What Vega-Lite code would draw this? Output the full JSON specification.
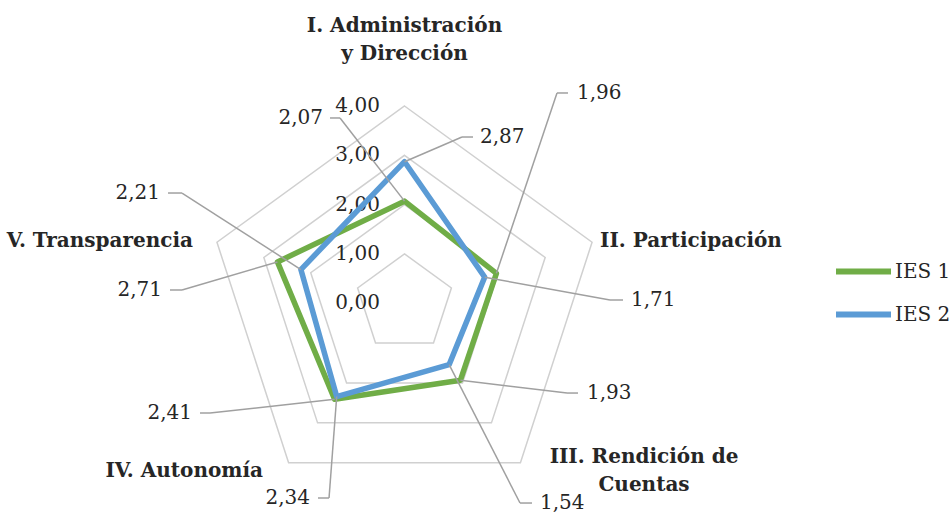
{
  "$schema": "https://vega.github.io/schema/vega-lite/v6.json",
  "width": 952,
  "height": 512,
  "padding": 0,
  "autosize": {"type": "none"},
  "background": "white",
  "config": {"view": {"stroke": null}, "font": "DejaVu Serif"},
  "datasets": {
    "scores": [
      {"dimension": "I. Administración y Dirección", "idx": 0, "series": "IES 1", "value": 2.07},
      {"dimension": "I. Administración y Dirección", "idx": 0, "series": "IES 2", "value": 2.87},
      {"dimension": "II. Participación", "idx": 1, "series": "IES 1", "value": 1.96},
      {"dimension": "II. Participación", "idx": 1, "series": "IES 2", "value": 1.71},
      {"dimension": "III. Rendición de Cuentas", "idx": 2, "series": "IES 1", "value": 1.93},
      {"dimension": "III. Rendición de Cuentas", "idx": 2, "series": "IES 2", "value": 1.54},
      {"dimension": "IV. Autonomía", "idx": 3, "series": "IES 1", "value": 2.41},
      {"dimension": "IV. Autonomía", "idx": 3, "series": "IES 2", "value": 2.34},
      {"dimension": "V. Transparencia", "idx": 4, "series": "IES 1", "value": 2.71},
      {"dimension": "V. Transparencia", "idx": 4, "series": "IES 2", "value": 2.21}
    ],
    "rings": [
      {"ring": 1, "idx": 0}, {"ring": 1, "idx": 1}, {"ring": 1, "idx": 2}, {"ring": 1, "idx": 3}, {"ring": 1, "idx": 4},
      {"ring": 2, "idx": 0}, {"ring": 2, "idx": 1}, {"ring": 2, "idx": 2}, {"ring": 2, "idx": 3}, {"ring": 2, "idx": 4},
      {"ring": 3, "idx": 0}, {"ring": 3, "idx": 1}, {"ring": 3, "idx": 2}, {"ring": 3, "idx": 3}, {"ring": 3, "idx": 4},
      {"ring": 4, "idx": 0}, {"ring": 4, "idx": 1}, {"ring": 4, "idx": 2}, {"ring": 4, "idx": 3}, {"ring": 4, "idx": 4}
    ],
    "ticks": [{"tick": 0}, {"tick": 1}, {"tick": 2}, {"tick": 3}, {"tick": 4}],
    "dims": [
      {"idx": 0, "label": "I. Administración\ny Dirección"},
      {"idx": 1, "label": "II. Participación"},
      {"idx": 2, "label": "III. Rendición de\nCuentas"},
      {"idx": 3, "label": "IV. Autonomía"},
      {"idx": 4, "label": "V. Transparencia"}
    ]
  },
  "layer": [
    {
      "data": {"name": "rings"},
      "transform": [
        {"calculate": "datum.ring * sin(datum.idx * 2 * PI / 5)", "as": "px"},
        {"calculate": "datum.ring * cos(datum.idx * 2 * PI / 5)", "as": "py"}
      ],
      "mark": {"type": "line", "interpolate": "linear-closed", "stroke": "#d0d0d0", "strokeWidth": 1.5},
      "encoding": {
        "x": {"field": "px", "type": "quantitative", "axis": null, "scale": {"domain": [-8.205, 11.105], "nice": false, "zero": false}},
        "y": {"field": "py", "type": "quantitative", "axis": null, "scale": {"domain": [-4.235, 6.15], "nice": false, "zero": false}},
        "detail": {"field": "ring"},
        "order": {"field": "idx", "type": "quantitative"}
      }
    },
    {
      "data": {"name": "ticks"},
      "transform": [
        {"calculate": "replace(format(datum.tick, '.2f'), '.', ',')", "as": "lab"},
        {"calculate": "-0.5", "as": "tx"}
      ],
      "mark": {"type": "text", "align": "right", "baseline": "middle", "fontSize": 20, "color": "#262626"},
      "encoding": {
        "x": {"field": "tx", "type": "quantitative", "axis": null, "scale": {"domain": [-8.205, 11.105], "nice": false, "zero": false}},
        "y": {"field": "tick", "type": "quantitative", "axis": null, "scale": {"domain": [-4.235, 6.15], "nice": false, "zero": false}},
        "text": {"field": "lab"}
      }
    },
    {
      "data": {"name": "scores"},
      "transform": [
        {"calculate": "datum.value * sin(datum.idx * 2 * PI / 5)", "as": "px"},
        {"calculate": "datum.value * cos(datum.idx * 2 * PI / 5)", "as": "py"}
      ],
      "mark": {"type": "line", "interpolate": "linear-closed", "strokeWidth": 5.5, "strokeJoin": "round"},
      "encoding": {
        "x": {"field": "px", "type": "quantitative", "axis": null, "scale": {"domain": [-8.205, 11.105], "nice": false, "zero": false}},
        "y": {"field": "py", "type": "quantitative", "axis": null, "scale": {"domain": [-4.235, 6.15], "nice": false, "zero": false}},
        "color": {
          "field": "series", "type": "nominal",
          "scale": {"domain": ["IES 1", "IES 2"], "range": ["#70AD47", "#5B9BD5"]},
          "legend": {
            "orient": "none", "legendX": 833, "legendY": 241, "title": null,
            "symbolType": "stroke", "symbolStrokeWidth": 6, "symbolSize": 3025,
            "labelFont": "DejaVu Serif", "labelFontSize": 20, "labelColor": "#262626",
            "rowPadding": -19, "labelOffset": 1
          }
        },
        "order": {"field": "idx", "type": "quantitative"}
      }
    },
    {
      "data": {"name": "scores"},
      "transform": [
        {"calculate": "datum.idx * 2 + (datum.series == 'IES 1' ? 0 : 1)", "as": "k"},
        {"calculate": "datum.value * sin(datum.idx * 2 * PI / 5)", "as": "px"},
        {"calculate": "datum.value * cos(datum.idx * 2 * PI / 5)", "as": "py"},
        {"calculate": "[-1.308, 1.166, 3.093, 4.168, 3.296, 2.343, -3.945, -1.531, -4.513, -4.513][datum.k]", "as": "ex"},
        {"calculate": "[3.757, 3.371, 4.264, 0.065, -1.822, -4.053, -2.227, -3.951, 0.268, 2.235][datum.k]", "as": "ey"}
      ],
      "mark": {"type": "rule", "stroke": "#a0a0a0", "strokeWidth": 1.5},
      "encoding": {
        "x": {"field": "px", "type": "quantitative", "axis": null, "scale": {"domain": [-8.205, 11.105], "nice": false, "zero": false}},
        "y": {"field": "py", "type": "quantitative", "axis": null, "scale": {"domain": [-4.235, 6.15], "nice": false, "zero": false}},
        "x2": {"field": "ex"},
        "y2": {"field": "ey"}
      }
    },
    {
      "data": {"name": "scores"},
      "transform": [
        {"calculate": "datum.idx * 2 + (datum.series == 'IES 1' ? 0 : 1)", "as": "k"},
        {"calculate": "[-1.308, 1.166, 3.093, 4.168, 3.296, 2.343, -3.945, -1.531, -4.513, -4.513][datum.k]", "as": "ex"},
        {"calculate": "[3.757, 3.371, 4.264, 0.065, -1.822, -4.053, -2.227, -3.951, 0.268, 2.235][datum.k]", "as": "ey"},
        {"calculate": "[-1.511, 1.389, 3.316, 4.432, 3.519, 2.586, -4.148, -1.755, -4.757, -4.797][datum.k]", "as": "hx"}
      ],
      "mark": {"type": "rule", "stroke": "#a0a0a0", "strokeWidth": 1.5},
      "encoding": {
        "x": {"field": "ex", "type": "quantitative", "axis": null, "scale": {"domain": [-8.205, 11.105], "nice": false, "zero": false}},
        "y": {"field": "ey", "type": "quantitative", "axis": null, "scale": {"domain": [-4.235, 6.15], "nice": false, "zero": false}},
        "x2": {"field": "hx"}
      }
    },
    {
      "data": {"name": "scores"},
      "transform": [
        {"calculate": "datum.idx * 2 + (datum.series == 'IES 1' ? 0 : 1)", "as": "k"},
        {"filter": "datum.k >= 1 && datum.k <= 5"},
        {"calculate": "[-1.653, 1.531, 3.499, 4.594, 3.702, 2.748, -4.31, -1.917, -4.919, -4.959][datum.k]", "as": "tx"},
        {"calculate": "[3.757, 3.371, 4.264, 0.065, -1.822, -4.053, -2.227, -3.951, 0.268, 2.235][datum.k]", "as": "ty"},
        {"calculate": "replace(format(datum.value, '.2f'), '.', ',')", "as": "lab"}
      ],
      "mark": {"type": "text", "align": "left", "baseline": "middle", "fontSize": 20, "color": "#262626"},
      "encoding": {
        "x": {"field": "tx", "type": "quantitative", "axis": null, "scale": {"domain": [-8.205, 11.105], "nice": false, "zero": false}},
        "y": {"field": "ty", "type": "quantitative", "axis": null, "scale": {"domain": [-4.235, 6.15], "nice": false, "zero": false}},
        "text": {"field": "lab"}
      }
    },
    {
      "data": {"name": "scores"},
      "transform": [
        {"calculate": "datum.idx * 2 + (datum.series == 'IES 1' ? 0 : 1)", "as": "k"},
        {"filter": "datum.k < 1 || datum.k > 5"},
        {"calculate": "[-1.653, 1.531, 3.499, 4.594, 3.702, 2.748, -4.31, -1.917, -4.919, -4.959][datum.k]", "as": "tx"},
        {"calculate": "[3.757, 3.371, 4.264, 0.065, -1.822, -4.053, -2.227, -3.951, 0.268, 2.235][datum.k]", "as": "ty"},
        {"calculate": "replace(format(datum.value, '.2f'), '.', ',')", "as": "lab"}
      ],
      "mark": {"type": "text", "align": "right", "baseline": "middle", "fontSize": 20, "color": "#262626"},
      "encoding": {
        "x": {"field": "tx", "type": "quantitative", "axis": null, "scale": {"domain": [-8.205, 11.105], "nice": false, "zero": false}},
        "y": {"field": "ty", "type": "quantitative", "axis": null, "scale": {"domain": [-4.235, 6.15], "nice": false, "zero": false}},
        "text": {"field": "lab"}
      }
    },
    {
      "data": {"name": "dims"},
      "transform": [
        {"filter": "datum.idx == 0 || datum.idx == 2"},
        {"calculate": "[0, 3.966, 4.858, -2.87, -4.29][datum.idx]", "as": "lx"},
        {"calculate": "[5.501, 1.14, -3.241, -3.525, 1.14][datum.idx]", "as": "ly"}
      ],
      "mark": {"type": "text", "align": "center", "baseline": "alphabetic", "fontSize": 20, "fontWeight": "bold", "color": "#262626", "lineBreak": "\n", "lineHeight": 28},
      "encoding": {
        "x": {"field": "lx", "type": "quantitative", "axis": null, "scale": {"domain": [-8.205, 11.105], "nice": false, "zero": false}},
        "y": {"field": "ly", "type": "quantitative", "axis": null, "scale": {"domain": [-4.235, 6.15], "nice": false, "zero": false}},
        "text": {"field": "label"}
      }
    },
    {
      "data": {"name": "dims"},
      "transform": [
        {"filter": "datum.idx == 1"},
        {"calculate": "[0, 3.966, 4.858, -2.87, -4.29][datum.idx]", "as": "lx"},
        {"calculate": "[5.501, 1.14, -3.241, -3.525, 1.14][datum.idx]", "as": "ly"}
      ],
      "mark": {"type": "text", "align": "left", "baseline": "alphabetic", "fontSize": 20, "fontWeight": "bold", "color": "#262626"},
      "encoding": {
        "x": {"field": "lx", "type": "quantitative", "axis": null, "scale": {"domain": [-8.205, 11.105], "nice": false, "zero": false}},
        "y": {"field": "ly", "type": "quantitative", "axis": null, "scale": {"domain": [-4.235, 6.15], "nice": false, "zero": false}},
        "text": {"field": "label"}
      }
    },
    {
      "data": {"name": "dims"},
      "transform": [
        {"filter": "datum.idx == 3 || datum.idx == 4"},
        {"calculate": "[0, 3.966, 4.858, -2.87, -4.29][datum.idx]", "as": "lx"},
        {"calculate": "[5.501, 1.14, -3.241, -3.525, 1.14][datum.idx]", "as": "ly"}
      ],
      "mark": {"type": "text", "align": "right", "baseline": "alphabetic", "fontSize": 20, "fontWeight": "bold", "color": "#262626"},
      "encoding": {
        "x": {"field": "lx", "type": "quantitative", "axis": null, "scale": {"domain": [-8.205, 11.105], "nice": false, "zero": false}},
        "y": {"field": "ly", "type": "quantitative", "axis": null, "scale": {"domain": [-4.235, 6.15], "nice": false, "zero": false}},
        "text": {"field": "label"}
      }
    }
  ]
}
